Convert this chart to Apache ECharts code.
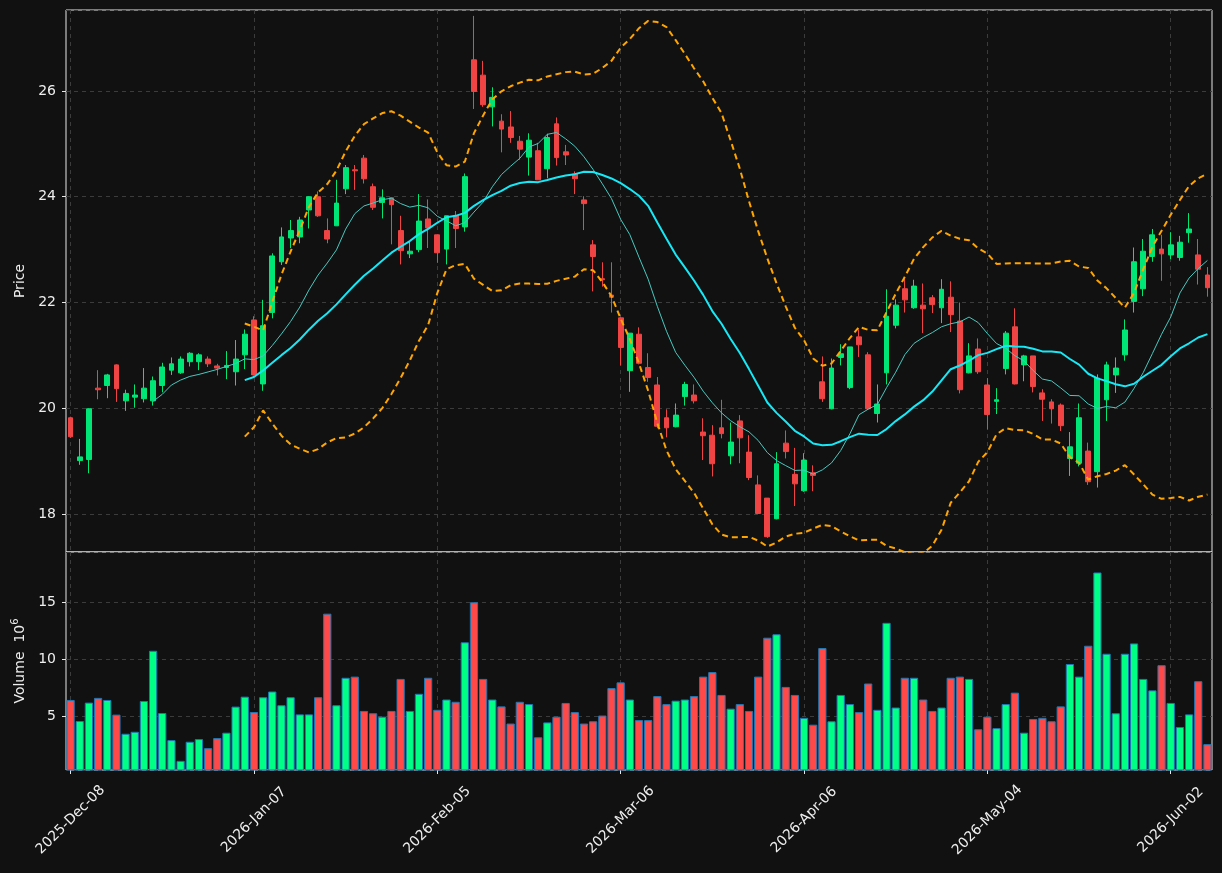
<!DOCTYPE html>
<html>
<head>
<meta charset="utf-8">
<script src="https://cdn.jsdelivr.net/npm/echarts@6/dist/echarts.min.js"></script>
<style>
html,body{margin:0;padding:0;background:#111111;}
#chart{width:1222px;height:873px;}
</style>
</head>
<body>
<div id="chart"></div>
<script>
const dates = [
'2025-Dec-08','2025-Dec-09','2025-Dec-10','2025-Dec-11','2025-Dec-12','2025-Dec-15','2025-Dec-16','2025-Dec-17','2025-Dec-18','2025-Dec-19',
'2025-Dec-22','2025-Dec-23','2025-Dec-24','2025-Dec-26','2025-Dec-29','2025-Dec-30','2025-Dec-31',
'2026-Jan-02','2026-Jan-05','2026-Jan-06','2026-Jan-07','2026-Jan-08','2026-Jan-09','2026-Jan-12','2026-Jan-13','2026-Jan-14','2026-Jan-15','2026-Jan-16',
'2026-Jan-20','2026-Jan-21','2026-Jan-22','2026-Jan-23','2026-Jan-26','2026-Jan-27','2026-Jan-28','2026-Jan-29','2026-Jan-30',
'2026-Feb-02','2026-Feb-03','2026-Feb-04','2026-Feb-05','2026-Feb-06','2026-Feb-09','2026-Feb-10','2026-Feb-11','2026-Feb-12','2026-Feb-13',
'2026-Feb-17','2026-Feb-18','2026-Feb-19','2026-Feb-20','2026-Feb-23','2026-Feb-24','2026-Feb-25','2026-Feb-26','2026-Feb-27',
'2026-Mar-02','2026-Mar-03','2026-Mar-04','2026-Mar-05','2026-Mar-06','2026-Mar-09','2026-Mar-10','2026-Mar-11','2026-Mar-12','2026-Mar-13',
'2026-Mar-16','2026-Mar-17','2026-Mar-18','2026-Mar-19','2026-Mar-20','2026-Mar-23','2026-Mar-24','2026-Mar-25','2026-Mar-26','2026-Mar-27',
'2026-Mar-30','2026-Mar-31',
'2026-Apr-01','2026-Apr-02','2026-Apr-06','2026-Apr-07','2026-Apr-08','2026-Apr-09','2026-Apr-10','2026-Apr-13','2026-Apr-14','2026-Apr-15',
'2026-Apr-16','2026-Apr-17','2026-Apr-20','2026-Apr-21','2026-Apr-22','2026-Apr-23','2026-Apr-24','2026-Apr-27','2026-Apr-28','2026-Apr-29','2026-Apr-30',
'2026-May-01','2026-May-04','2026-May-05','2026-May-06','2026-May-07','2026-May-08','2026-May-11','2026-May-12','2026-May-13','2026-May-14',
'2026-May-15','2026-May-18','2026-May-19','2026-May-20','2026-May-21','2026-May-22','2026-May-26','2026-May-27','2026-May-28','2026-May-29',
'2026-Jun-01','2026-Jun-02','2026-Jun-03','2026-Jun-04','2026-Jun-05','2026-Jun-08'
];

const opens = [
19.82,19.01,19.03,20.38,20.43,20.82,20.14,20.21,20.18,20.14,
20.43,20.72,20.67,20.88,20.88,20.93,20.80,20.77,20.69,21.01,
21.67,20.46,21.81,22.77,23.22,23.24,23.75,24.00,23.36,23.45,
24.15,24.51,24.73,24.19,23.89,23.98,23.36,22.92,23.00,23.58,
23.28,23.01,23.64,23.43,26.59,26.30,25.70,25.43,25.32,25.05,
24.75,24.87,24.53,25.38,24.85,24.43,23.94,23.09,22.45,22.14,
21.71,20.71,21.40,20.77,20.44,19.82,19.65,20.22,20.25,19.55,
19.49,19.63,19.10,19.76,19.17,18.55,18.30,17.91,19.34,18.75,
18.44,18.78,20.50,19.99,20.96,20.39,21.35,21.01,19.90,20.67,
21.57,22.26,21.90,21.95,22.09,21.90,22.10,21.65,20.67,21.12,
20.44,20.13,20.75,21.54,20.82,20.99,20.29,20.12,20.06,19.05,
18.96,19.19,18.80,20.16,20.63,21.01,22.02,22.26,22.87,23.01,
22.90,22.85,23.32,22.90,22.52
];
const highs = [
19.84,19.42,20.00,20.72,20.65,20.83,20.35,20.45,20.76,20.60,
20.86,20.96,20.98,21.06,21.04,20.98,20.84,21.08,21.29,21.49,
21.74,22.05,22.93,23.42,23.56,23.62,24.01,24.10,23.59,24.32,
24.60,24.60,24.79,24.25,24.14,23.98,23.64,23.15,24.05,23.95,
23.28,23.64,23.73,24.44,27.42,26.57,26.07,25.56,25.62,25.15,
25.20,25.02,25.19,25.50,24.98,24.48,24.01,23.18,22.76,22.76,
21.73,21.42,21.53,21.04,20.59,19.98,20.09,20.50,20.45,19.81,
19.68,20.16,19.73,19.87,19.49,18.73,18.30,19.17,19.58,19.25,
19.15,18.92,20.98,20.94,21.21,21.16,21.49,21.06,20.45,22.25,
22.06,22.45,22.43,22.36,22.14,22.44,22.40,22.00,21.23,21.32,
20.57,20.38,21.46,21.89,21.01,20.99,20.36,20.17,20.09,19.55,
20.09,19.35,20.64,20.88,20.96,21.68,23.04,23.20,23.39,23.28,
23.33,23.26,23.69,23.20,22.67
];
const lows = [
19.44,18.93,18.77,20.17,20.19,20.12,19.95,20.01,20.11,20.05,
20.30,20.63,20.65,20.79,20.72,20.78,20.62,20.55,20.43,20.74,
20.62,20.33,21.70,22.71,23.03,23.12,23.40,23.62,23.12,23.45,
24.05,24.13,24.25,23.75,23.59,23.10,22.72,22.84,22.95,23.03,
22.75,22.72,23.03,23.34,25.66,25.70,25.33,24.84,25.02,24.70,
24.40,24.32,24.35,24.59,24.60,24.05,23.37,22.21,22.30,21.81,
20.81,20.31,20.83,20.50,19.62,19.45,19.64,20.05,20.09,19.02,
18.71,19.43,18.94,18.96,18.64,18.00,17.55,17.90,19.05,18.15,
18.42,18.43,20.12,19.98,20.81,20.36,20.97,19.97,19.73,20.45,
21.51,21.81,21.88,21.42,21.80,21.61,21.44,20.28,20.66,20.65,
19.60,19.89,20.64,20.45,20.51,20.30,19.76,19.71,19.57,18.72,
18.90,18.55,18.50,19.76,20.29,20.90,21.81,22.12,22.77,22.41,
22.82,22.79,23.13,22.34,22.11
];
const closes = [
19.46,19.08,19.99,20.35,20.63,20.37,20.28,20.25,20.38,20.52,
20.78,20.84,20.93,21.04,21.01,20.84,20.76,20.81,20.93,21.40,
20.63,21.56,22.88,23.24,23.36,23.56,24.00,23.64,23.20,23.88,
24.55,24.49,24.34,23.80,23.98,23.85,22.98,22.97,23.54,23.41,
22.94,23.64,23.40,24.38,25.99,25.74,25.88,25.28,25.12,24.90,
25.07,24.32,25.12,24.74,24.79,24.34,23.87,22.87,22.43,22.10,
21.15,21.42,20.85,20.58,19.66,19.63,19.87,20.45,20.14,19.48,
18.95,19.52,19.36,19.44,18.69,18.01,17.57,18.95,19.18,18.57,
19.02,18.73,20.18,20.76,21.03,21.16,21.20,19.99,20.08,21.74,
21.95,22.05,22.31,21.88,21.96,22.25,21.77,20.35,20.99,20.69,
19.88,20.16,21.42,20.46,20.99,20.41,20.17,19.99,19.67,19.27,
19.82,18.61,20.57,20.82,20.76,21.48,22.77,22.97,23.28,22.92,
23.09,23.14,23.39,22.63,22.28
];
// volume in millions
const volumes = [
6.46,4.62,6.23,6.64,6.46,5.18,3.51,3.68,6.37,10.76,
5.32,2.95,1.14,2.81,3.04,2.25,3.13,3.60,5.88,6.75,
5.41,6.70,7.20,6.00,6.70,5.20,5.20,6.70,14.00,6.00,
8.40,8.50,5.50,5.30,5.00,5.50,8.30,5.50,7.00,8.40,
5.60,6.50,6.30,11.50,15.00,8.30,6.50,5.90,4.40,6.30,
6.10,3.20,4.50,5.00,6.20,5.40,4.40,4.60,5.10,7.50,
8.00,6.50,4.70,4.70,6.80,6.10,6.40,6.50,6.80,8.50,
8.90,6.90,5.70,6.10,5.50,8.50,11.90,12.20,7.60,6.90,
4.90,4.30,11.00,4.60,6.90,6.10,5.40,7.90,5.60,13.20,
5.80,8.40,8.40,6.50,5.50,5.80,8.40,8.50,8.30,3.90,
5.00,4.00,6.10,7.10,3.60,4.80,4.90,4.60,5.90,9.60,
8.50,11.20,17.60,10.50,5.30,10.50,11.40,8.30,7.30,9.50,
6.20,4.10,5.20,8.10,2.60
];
const tickIndices = [0,20,40,60,80,100,120];
const maShort = 10, maLong = 20, bbStd = 2;

// indicators derived from the closes (as in the original chart)
function sma(arr, n) {
  return arr.map((v, i) => {
    if (i < n - 1) return null;
    let s = 0; for (let k = i - n + 1; k <= i; k++) s += arr[k];
    return +(s / n).toFixed(4);
  });
}
function band(arr, n, m, sign) {
  const mid = sma(arr, n);
  return arr.map((v, i) => {
    if (i < n - 1) return null;
    let s = 0; for (let k = i - n + 1; k <= i; k++) s += (arr[k] - mid[i]) ** 2;
    const sd = Math.sqrt(s / n);
    return +(mid[i] + sign * m * sd).toFixed(4);
  });
}

const UP = '#00e676', DOWN = '#f04444';
const VUP = '#00ff85', VDOWN = '#ff4848';
const TXT = '#eeeeee', GRIDC = '#3c3c3c', FRAME = '#e8e8e8';
const FONT = 'DejaVu Sans';

const kData = opens.map((o, i) => [o, closes[i], lows[i], highs[i]]);
const volData = volumes.map((v, i) => ({
  value: v,
  itemStyle: { color: closes[i] >= opens[i] ? VUP : VDOWN }
}));
const tickFn = (idx) => tickIndices.indexOf(idx) >= 0;

const chart = echarts.init(document.getElementById('chart'), null, { renderer: 'canvas' });
chart.setOption({
  backgroundColor: '#111111',
  animation: false,
  grid: [
    { left: 66, right: 10, top: 10, height: 542, show: true, backgroundColor: '#111111', borderColor: FRAME, borderWidth: 1 },
    { left: 66, right: 10, top: 552, height: 218, show: true, backgroundColor: '#111111', borderColor: FRAME, borderWidth: 1 }
  ],
  xAxis: [
    {
      gridIndex: 0, type: 'category', data: dates, boundaryGap: true,
      axisLine: { show: false }, axisTick: { show: false }, axisLabel: { show: false },
      splitLine: { show: true, interval: tickFn, alignWithLabel: true, lineStyle: { color: GRIDC, type: [4, 4], width: 1 } }
    },
    {
      gridIndex: 1, type: 'category', data: dates, boundaryGap: true,
      axisLine: { show: false },
      axisTick: { show: true, alignWithLabel: true, interval: tickFn, length: 4, lineStyle: { color: FRAME } },
      axisLabel: { interval: tickFn, rotate: 45, align: 'center', verticalAlign: 'middle',
                   color: TXT, fontSize: 14, fontFamily: FONT, margin: 50 },
      splitLine: { show: true, interval: tickFn, alignWithLabel: true, lineStyle: { color: GRIDC, type: [4, 4], width: 1 } }
    }
  ],
  yAxis: [
    {
      gridIndex: 0, type: 'value', min: 17.281, max: 27.532, splitNumber: 5, scale: true,
      name: 'Price', nameLocation: 'middle', nameGap: 35,
      nameTextStyle: { color: TXT, fontSize: 14, fontFamily: FONT },
      axisLine: { show: false },
      axisTick: { show: true, length: 4, lineStyle: { color: FRAME } },
      axisLabel: { color: TXT, fontSize: 14, fontFamily: FONT, margin: 10, showMinLabel: false, showMaxLabel: false },
      splitLine: { show: true, lineStyle: { color: GRIDC, type: [4, 4], width: 1 } }
    },
    {
      gridIndex: 1, type: 'value', min: 0.34, max: 19.39, splitNumber: 4, scale: true,
      name: '{a|Volume  10}{s|6}', nameLocation: 'middle', nameGap: 35,
      nameTextStyle: {
        color: TXT, fontSize: 14, fontFamily: FONT,
        rich: {
          a: { color: TXT, fontSize: 14, fontFamily: FONT, lineHeight: 20 },
          s: { color: TXT, fontSize: 10, fontFamily: FONT, verticalAlign: 'top', lineHeight: 12 }
        }
      },
      axisLine: { show: false },
      axisTick: { show: true, length: 4, lineStyle: { color: FRAME } },
      axisLabel: { color: TXT, fontSize: 14, fontFamily: FONT, margin: 10, showMinLabel: false, showMaxLabel: false },
      splitLine: { show: true, lineStyle: { color: GRIDC, type: [4, 4], width: 1 } }
    }
  ],
  series: [
    {
      name: 'OHLC', type: 'candlestick', xAxisIndex: 0, yAxisIndex: 0,
      data: kData, barWidth: '58%',
      itemStyle: { color: UP, color0: DOWN, borderColor: UP, borderColor0: DOWN, borderWidth: 1 }
    },
    {
      name: 'MA10', type: 'line', xAxisIndex: 0, yAxisIndex: 0, data: sma(closes, maShort),
      showSymbol: false, symbol: 'none', lineStyle: { color: '#48c9c0', width: 1 }, z: 3
    },
    {
      name: 'MA20', type: 'line', xAxisIndex: 0, yAxisIndex: 0, data: sma(closes, maLong),
      showSymbol: false, symbol: 'none', lineStyle: { color: '#17e8f5', width: 2 }, z: 3
    },
    {
      name: 'BB upper', type: 'line', xAxisIndex: 0, yAxisIndex: 0, data: band(closes, maLong, bbStd, 1),
      showSymbol: false, symbol: 'none', lineStyle: { color: '#ffa500', width: 2, type: [6, 4] }, z: 3
    },
    {
      name: 'BB lower', type: 'line', xAxisIndex: 0, yAxisIndex: 0, data: band(closes, maLong, bbStd, -1),
      showSymbol: false, symbol: 'none', lineStyle: { color: '#ffa500', width: 2, type: [6, 4] }, z: 3
    },
    {
      name: 'Volume', type: 'bar', xAxisIndex: 1, yAxisIndex: 1, data: volData,
      barWidth: '90%', itemStyle: { borderColor: '#1f77b4', borderWidth: 1 }
    }
  ]
});
</script>
</body>
</html>
